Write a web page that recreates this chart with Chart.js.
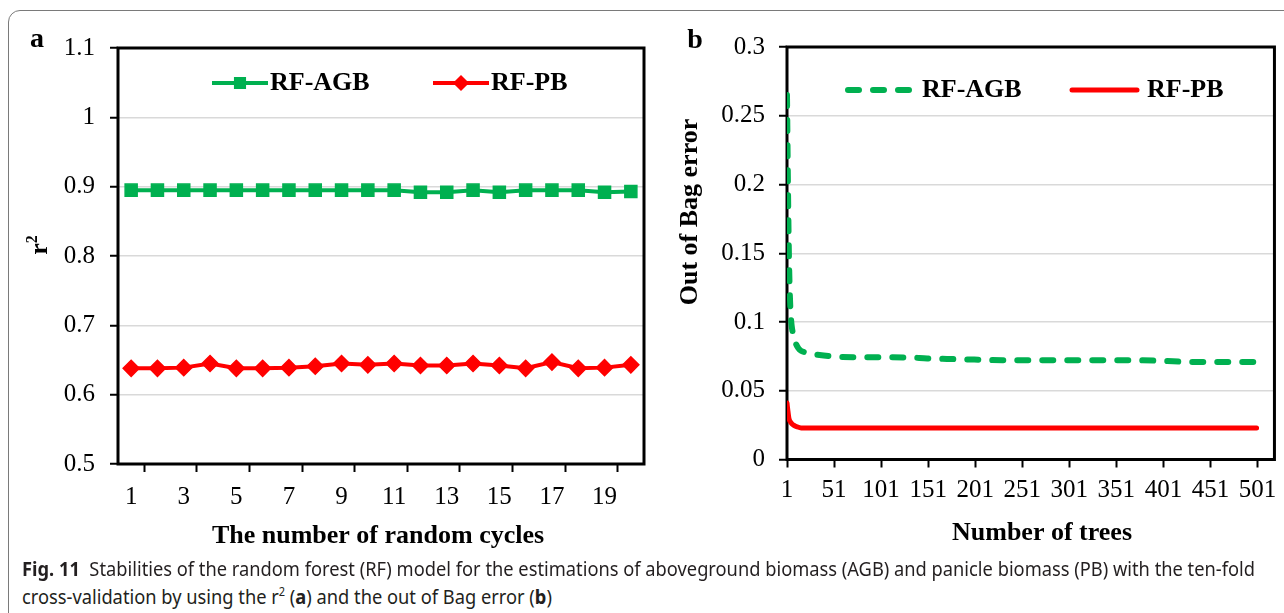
<!DOCTYPE html>
<html>
<head>
<meta charset="utf-8">
<script src="https://cdn.jsdelivr.net/npm/chart.js@4.4.1/dist/chart.umd.min.js"></script>
<style>
  html, body { margin: 0; padding: 0; background: #fff; }
  body { width: 1284px; height: 613px; position: relative; overflow: hidden; }
  #frame { position: absolute; left: 8px; top: 10px; width: 1320px; height: 700px;
           border: 1.5px solid #7a7a7a; border-radius: 12px; box-sizing: border-box; }
  #cvA { position: absolute; left: 0; top: 0; }
  #cvB { position: absolute; left: 660px; top: 0; }
  .cap { position: absolute; left: 22px; font-family: "Noto Sans", sans-serif; font-size: 20px;
         color: #231f20; white-space: nowrap; transform-origin: 0 50%; line-height: 26px; }
  .cap sup { font-size: 12px; vertical-align: 0; position: relative; top: -8px; line-height: 0; }
</style>
</head>
<body>
<div id="frame"></div>
<canvas id="cvA" width="660" height="560"></canvas>
<canvas id="cvB" width="624" height="560"></canvas>
<div class="cap" id="cap1" style="top:556px"><b>Fig. 11</b>&nbsp; Stabilities of the random forest (RF) model for the estimations of aboveground biomass (AGB) and panicle biomass (PB) with the ten-fold</div>
<div class="cap" id="cap2" style="top:584px">cross-validation by using the r<sup>2</sup> (<b>a</b>) and the out of Bag error (<b>b</b>)</div>

<script>
// ---- Panel a: r² of the RF models over 20 random cycles ----
const cycles = ['1','2','3','4','5','6','7','8','9','10','11','12','13','14','15','16','17','18','19','20'];
const r2AGB = [0.895, 0.895, 0.895, 0.895, 0.895, 0.895, 0.895, 0.895, 0.895, 0.895,
               0.895, 0.892, 0.892, 0.895, 0.892, 0.895, 0.895, 0.895, 0.892, 0.893];
const r2PB  = [0.638, 0.638, 0.639, 0.645, 0.638, 0.638, 0.639, 0.641, 0.645, 0.643,
               0.645, 0.642, 0.642, 0.645, 0.642, 0.638, 0.647, 0.638, 0.639, 0.643];
const r2Ticks      = [0.5, 0.6, 0.7, 0.8, 0.9, 1, 1.1];
const r2TickLabels = ['0.5', '0.6', '0.7', '0.8', '0.9', '1', '1.1'];

// ---- Panel b: out-of-bag error against the number of trees ----
const treesAGB = [1, 2, 3, 4, 5, 6, 8, 10, 13, 16, 20, 25, 30, 40, 50, 60, 100, 130, 150, 180,
                  200, 230, 300, 370, 400, 430, 500];
const oobAGB   = [0.265, 0.2, 0.15, 0.12, 0.105, 0.097, 0.09, 0.085, 0.081, 0.079, 0.078, 0.077,
                  0.0765, 0.0757, 0.075, 0.0745, 0.0743, 0.0742, 0.0735, 0.073, 0.0727, 0.0722,
                  0.0722, 0.0722, 0.0717, 0.071, 0.071];
const treesPB  = [1, 2, 3, 5, 8, 12, 16, 500];
const oobPB    = [0.041, 0.035, 0.03, 0.027, 0.025, 0.0237, 0.023, 0.023];
const treeTicks     = [1, 51, 101, 151, 201, 251, 301, 351, 401, 451, 501];
const oobTicks      = [0, 0.05, 0.1, 0.15, 0.2, 0.25, 0.3];
const oobTickLabels = ['0', '0.05', '0.1', '0.15', '0.2', '0.25', '0.3'];

const SERIF = '"Liberation Serif", "Times New Roman", serif';
const GREEN = '#00b050';
const RED = '#ff0000';

// Plot frame, panel letter, axis titles and the inline legend
const panelDecor = {
  id: 'panelDecor',
  beforeDatasetsDraw(chart) {
    const { ctx, chartArea: a } = chart;
    ctx.save();
    ctx.strokeStyle = '#000';
    ctx.lineWidth = 3;
    ctx.strokeRect(a.left, a.top, a.right - a.left, a.bottom - a.top);
    ctx.restore();
  },
  afterDraw(chart, args, o) {
    const ctx = chart.ctx;
    ctx.save();
    ctx.fillStyle = '#000';
    ctx.textBaseline = 'alphabetic';
    ctx.textAlign = 'center';
    ctx.font = 'bold 28px ' + SERIF;
    ctx.fillText(o.letter, o.letterX, o.letterY);

    ctx.font = 'bold 26px ' + SERIF;
    ctx.fillText(o.xTitle, o.xTitleX, o.xTitleY);

    ctx.translate(o.yTitleX, o.yTitleY);
    ctx.rotate(-Math.PI / 2);
    if (o.yTitleSup) {
      ctx.font = 'bold 26px ' + SERIF;
      const w1 = ctx.measureText(o.yTitle).width;
      ctx.font = 'bold 16px ' + SERIF;
      const w2 = ctx.measureText(o.yTitleSup).width;
      const start = -(w1 + w2) / 2;
      ctx.textAlign = 'left';
      ctx.font = 'bold 26px ' + SERIF;
      ctx.fillText(o.yTitle, start, 0);
      ctx.font = 'bold 16px ' + SERIF;
      ctx.fillText(o.yTitleSup, start + w1, -10);
    } else {
      ctx.fillText(o.yTitle, 0, 0);
    }
    ctx.restore();

    o.legend.forEach((it) => {
      const ds = chart.data.datasets[it.dataset];
      ctx.save();
      ctx.strokeStyle = ds.borderColor;
      ctx.lineWidth = ds.borderWidth;
      ctx.lineCap = ds.borderCapStyle || 'butt';
      ctx.setLineDash(ds.borderDash || []);
      ctx.beginPath();
      ctx.moveTo(it.x0, it.y);
      ctx.lineTo(it.x1, it.y);
      ctx.stroke();
      ctx.setLineDash([]);
      if (ds.pointRadius > 0) {
        ctx.fillStyle = ds.pointBackgroundColor;
        ctx.strokeStyle = ds.pointBorderColor;
        ctx.lineWidth = ds.pointBorderWidth;
        Chart.helpers.drawPoint(ctx, {
          pointStyle: ds.pointStyle, radius: ds.pointRadius - 1,
          borderWidth: ds.pointBorderWidth, rotation: 0
        }, (it.x0 + it.x1) / 2, it.y);
      }
      ctx.fillStyle = '#000';
      ctx.font = 'bold 26px ' + SERIF;
      ctx.textAlign = 'left';
      ctx.textBaseline = 'middle';
      ctx.fillText(ds.label, it.tx, it.y);
      ctx.restore();
    });
  }
};

const tickFont = { family: SERIF, size: 25 };

// Panel a
new Chart(document.getElementById('cvA'), {
  type: 'line',
  data: {
    labels: cycles,
    datasets: [
      { label: 'RF-AGB', data: r2AGB, borderColor: GREEN, borderWidth: 4, tension: 0,
        pointStyle: 'rect', pointRadius: 8.5, pointHoverRadius: 8.5,
        pointBackgroundColor: GREEN, pointBorderColor: GREEN, pointBorderWidth: 1.5 },
      { label: 'RF-PB', data: r2PB, borderColor: RED, borderWidth: 4, tension: 0,
        pointStyle: 'rectRot', pointRadius: 8, pointHoverRadius: 8,
        pointBackgroundColor: RED, pointBorderColor: RED, pointBorderWidth: 1.5 }
    ]
  },
  options: {
    responsive: false, animation: false, devicePixelRatio: 1,
    events: [],
    layout: { padding: { top: 48, right: 16, left: 0, bottom: 0 } },
    plugins: {
      legend: { display: false }, tooltip: { enabled: false },
      panelDecor: {
        letter: 'a', letterX: 37, letterY: 47,
        xTitle: 'The number of random cycles', xTitleX: 378, xTitleY: 543,
        yTitle: 'r', yTitleSup: '2', yTitleX: 47, yTitleY: 245,
        legend: [
          { dataset: 0, x0: 212, x1: 268, y: 83, tx: 270 },
          { dataset: 1, x0: 433, x1: 489, y: 83, tx: 491 }
        ]
      }
    },
    scales: {
      x: {
        type: 'category', offset: true,
        border: { display: false },
        grid: { offset: true, drawOnChartArea: false, drawTicks: true, tickLength: 8, tickWidth: 2,
                tickColor: (c) => (c.index % 2 === 1 ? '#000' : 'rgba(0,0,0,0)') },
        ticks: { autoSkip: false, maxRotation: 0, padding: 10, color: '#000', font: tickFont,
                 callback: (v, i) => (i % 2 === 0 ? cycles[i] : '') },
        afterFit: (s) => { s.height = 96; }
      },
      y: {
        min: 0.5, max: 1.1,
        border: { display: false },
        afterBuildTicks: (s) => { s.ticks = r2Ticks.map((v) => ({ value: v })); },
        grid: { color: '#d9d9d9', lineWidth: 1.5, tickLength: 8, tickWidth: 2, tickColor: '#000' },
        ticks: { padding: 15, color: '#000', font: tickFont, callback: (v, i) => r2TickLabels[i] },
        afterFit: (s) => { s.width = 118; }
      }
    }
  },
  plugins: [panelDecor]
});

// Panel b
new Chart(document.getElementById('cvB'), {
  type: 'line',
  data: {
    datasets: [
      { label: 'RF-AGB', data: treesAGB.map((t, i) => ({ x: t, y: oobAGB[i] })),
        borderColor: GREEN, borderWidth: 6, borderDash: [11, 14], borderCapStyle: 'round',
        cubicInterpolationMode: 'monotone', pointRadius: 0 },
      { label: 'RF-PB', data: treesPB.map((t, i) => ({ x: t, y: oobPB[i] })),
        borderColor: RED, borderWidth: 5, borderCapStyle: 'round',
        cubicInterpolationMode: 'monotone', pointRadius: 0 }
    ]
  },
  options: {
    responsive: false, animation: false, devicePixelRatio: 1,
    events: [],
    layout: { padding: { top: 47, right: 7, left: 0, bottom: 0 } },
    plugins: {
      legend: { display: false }, tooltip: { enabled: false },
      panelDecor: {
        letter: 'b', letterX: 35, letterY: 48,
        xTitle: 'Number of trees', xTitleX: 382, xTitleY: 540,
        yTitle: 'Out of Bag error', yTitleX: 37, yTitleY: 212,
        legend: [
          { dataset: 0, x0: 188, x1: 252, y: 90, tx: 262 },
          { dataset: 1, x0: 412, x1: 477, y: 90, tx: 487 }
        ]
      }
    },
    scales: {
      x: {
        type: 'linear', min: 1, max: 519,
        border: { display: false },
        afterBuildTicks: (s) => { s.ticks = treeTicks.map((v) => ({ value: v })); },
        grid: { drawOnChartArea: false, drawTicks: true, tickLength: 8, tickWidth: 2, tickColor: '#000' },
        ticks: { autoSkip: false, maxRotation: 0, padding: 7.5, color: '#000', font: tickFont,
                 callback: (v) => String(v) },
        afterFit: (s) => { s.height = 100.5; }
      },
      y: {
        min: 0, max: 0.3,
        border: { display: false },
        afterBuildTicks: (s) => { s.ticks = oobTicks.map((v) => ({ value: v })); },
        grid: { color: '#d9d9d9', lineWidth: 1.5, tickLength: 8, tickWidth: 2, tickColor: '#000' },
        ticks: { padding: 14, color: '#000', font: tickFont, callback: (v, i) => oobTickLabels[i] },
        afterFit: (s) => { s.width = 127; }
      }
    }
  },
  plugins: [panelDecor]
});

// Caption set in a narrow face: squeeze the lines to the caption width
function fitCaption() {
  const c1 = document.getElementById('cap1');
  const c2 = document.getElementById('cap2');
  c1.style.transform = 'none';
  c2.style.transform = 'none';
  const w = c1.getBoundingClientRect().width;
  const k = 1233 / w;
  c1.style.transform = 'scaleX(' + k + ')';
  c2.style.transform = 'scaleX(' + k + ')';
}
fitCaption();
if (document.fonts && document.fonts.ready) document.fonts.ready.then(fitCaption);
</script>
</body>
</html>
